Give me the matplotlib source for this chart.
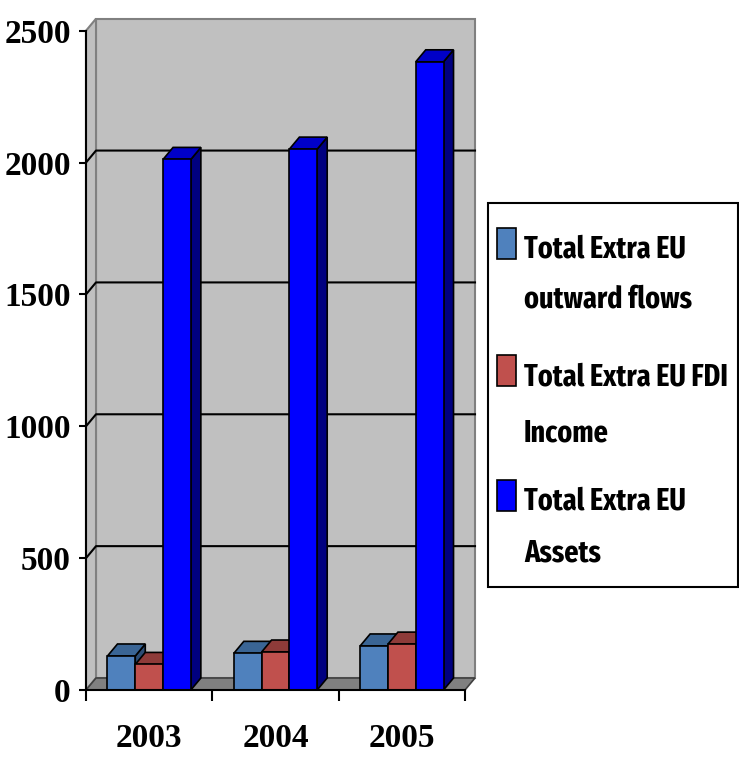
import matplotlib
matplotlib.use("Agg")
import matplotlib.pyplot as plt
from matplotlib.patches import Polygon, Rectangle

years = ["2003", "2004", "2005"]
series = ["Total Extra EU\noutward flows", "Total Extra EU FDI\nIncome", "Total Extra EU\nAssets"]
outward = [129, 139, 167]
income = [97, 144, 174]
assets = [2012, 2051, 2382]
yticks = [0, 500, 1000, 1500, 2000, 2500]

values = [outward, income, assets]
front = ["#4F81BD", "#C0504D", "#0000FF"]
top = ["#3A6595", "#8E3B39", "#0000C8"]
side = ["#2C4D75", "#6E2D2B", "#000080"]

W, H = 739, 757
fig = plt.figure(figsize=(W / 100, H / 100), dpi=100)

# front plane of the plot in pixels: x 86..465, y 690 (0) .. 30.7 (2500)
ax = fig.add_axes([86 / W, (H - 690) / H, 379 / W, (690 - 30.7) / H])
ax.set_xlim(0, 3)
ax.set_ylim(0, 2500)
ax.patch.set_visible(False)

# depth of the 3d box in data units (about 10 px right, 12 px up)
dx = 10 / 126.33
dy = 12 / 0.26372
ymax = yticks[-1]

wall = "#C0C0C0"
ax.add_patch(Polygon([(dx, dy), (3 + dx, dy), (3 + dx, ymax + dy), (dx, ymax + dy)],
                     fc=wall, ec="#808080", lw=1.5, clip_on=False, zorder=1))
ax.add_patch(Polygon([(0, 0), (dx, dy), (dx, ymax + dy), (0, ymax)],
                     fc=wall, ec="#808080", lw=1.5, clip_on=False, zorder=1))
ax.add_patch(Polygon([(0, 0), (3, 0), (3 + dx, dy), (dx, dy)],
                     fc="#808080", ec="#404040", lw=1.2, clip_on=False, zorder=2))

for v in yticks[1:-1]:
    ax.plot([0, dx, 3 + dx], [v, v + dy, v + dy], color="black", lw=1.5,
            clip_on=False, zorder=2)

# 3d columns
bw = 0.22
for i in range(len(years)):
    for j in range(len(values)):
        v = values[j][i]
        x0 = i + 0.17 + j * bw
        z = 3 + i * 3 + j
        ax.add_patch(Polygon([(x0 + bw, 0), (x0 + bw + dx, dy), (x0 + bw + dx, v + dy), (x0 + bw, v)],
                             fc=side[j], ec="black", lw=1.2, clip_on=False, zorder=z))
        ax.add_patch(Polygon([(x0, v), (x0 + dx, v + dy), (x0 + bw + dx, v + dy), (x0 + bw, v)],
                             fc=top[j], ec="black", lw=1.2, clip_on=False, zorder=z))
        ax.add_patch(Rectangle((x0, 0), bw, v, fc=front[j], ec="black", lw=1.2,
                               clip_on=False, zorder=z))

# axes
for s in ["top", "right"]:
    ax.spines[s].set_visible(False)
ax.spines["left"].set_linewidth(1.5)
ax.spines["bottom"].set_linewidth(1.5)
ax.spines["left"].set_zorder(20)
ax.spines["bottom"].set_zorder(20)

tickfont = dict(family=["Liberation Serif", "DejaVu Serif"], weight="bold", size=24)
ax.set_yticks(yticks)
ax.set_yticklabels([str(t) for t in yticks], fontdict=tickfont)
ax.tick_params(axis="y", length=5, width=1.5, pad=6)

ax.set_xticks([0, 1, 2, 3])
ax.set_xticklabels([])
ax.tick_params(axis="x", which="major", length=8, width=1.5)
ax.set_xticks([0.5, 1.5, 2.5], minor=True)
ax.set_xticklabels(years, minor=True, fontdict=tickfont)
ax.tick_params(axis="x", which="minor", length=0, pad=24)

# legend drawn by hand: box, colour swatch, two text lines per entry
def fx(px):
    return px / W

def fy(py):
    return 1 - py / H

fig.add_artist(Rectangle((fx(488), fy(587)), fx(250), (587 - 203) / H, fill=False,
                         ec="black", lw=1.5, transform=fig.transFigure))
legfont = dict(family=["Fira Sans Extra Condensed", "Carlito", "DejaVu Sans"],
               weight="bold", size=22)
baselines = [(258, 307), (385, 442), (510, 562)]
for j, label in enumerate(series):
    b1, b2 = baselines[j]
    fig.add_artist(Rectangle((fx(497), fy(b1 + 1)), fx(19), 31 / H, fc=front[j],
                             ec="black", lw=1.2, transform=fig.transFigure))
    l1, l2 = label.split("\n")
    fig.text(fx(524), fy(b1), l1, va="baseline", ha="left", **legfont)
    fig.text(fx(524), fy(b2), l2, va="baseline", ha="left", **legfont)

fig.savefig("out.png", dpi=100)
